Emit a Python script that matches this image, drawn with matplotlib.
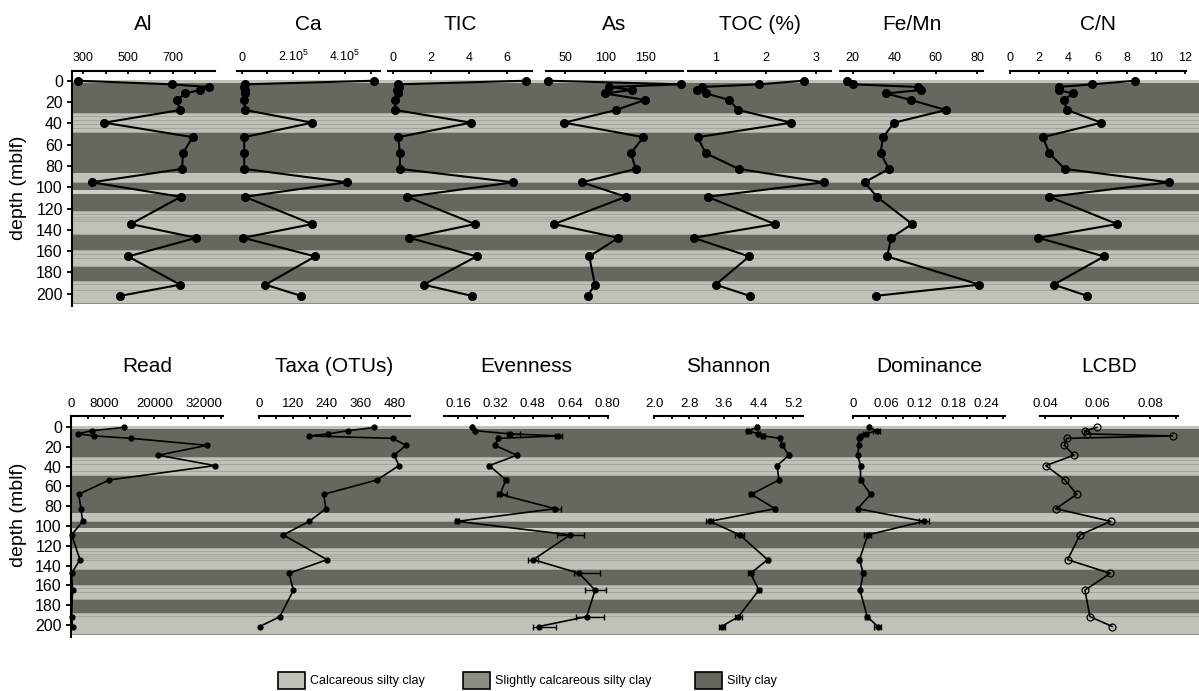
import numpy as np
import matplotlib
matplotlib.use('Agg')
import matplotlib.pyplot as plt
from matplotlib.patches import Rectangle
from matplotlib import font_manager

plt.rcParams['font.family'] = ['Liberation Sans', 'DejaVu Sans']

# ---- lithology (depth in mblf) ----
zone_from = [-1, 2.5, 30.5, 49.5, 87, 95.5, 102.5, 106, 122.5, 144.5, 159.5, 174.5, 188, 209]
zone_to = [2.5, 30.5, 49.5, 87, 95.5, 102.5, 106, 122.5, 144.5, 159.5, 174.5, 188, 209, 210]
zone_kind = ['L', 'D', 'L', 'D', 'L', 'D', 'W', 'D', 'L', 'D', 'L', 'D', 'L', 'M']
stripe_depth = [30.8, 34, 37.5, 41.5, 45, 49, 95.3, 122.8, 126, 128.5, 130.5, 132.5, 134.5,
                144.2, 159.8, 163, 167, 174.2, 188.3, 191, 197]

# ---- top row: geochemistry ----
depth_top = [0, 3.4, 5.9, 8.7, 12, 18, 27.5, 39.4, 53, 68, 82.8, 95.4, 109, 134.6, 147.5, 165, 191.5, 202]
al = [275, 696, 864, 823, 757, 719, 734, 394, 790, 746, 743, 338, 737, 513, 806, 501, 734, 465]
ca = [513000, 12000, 10000, 12000, 12000, 10000, 13000, 273000, 10000, 10000, 10000, 408000,
      12000, 273000, 6000, 285000, 92000, 230000]
tic = [7.0, 0.26, 0.32, 0.2, 0.25, 0.1, 0.1, 4.1, 0.26, 0.35, 0.35, 6.35, 0.74, 4.32, 0.85, 4.4, 1.6, 4.15]
arsenic = [29, 194, 105, 133, 99, 149, 113, 49, 147, 131.5, 137.6, 71, 125.3, 36.5, 116, 80, 87, 78]
toc = [2.76, 1.86, 0.72, 0.62, 0.81, 1.27, 1.45, 2.51, 0.64, 0.80, 1.46, 3.16, 0.84, 2.18, 0.56, 1.67, 1.0, 1.68]
femn = [17.1, 20, 51.6, 53, 36, 47.9, 64.8, 40, 34.6, 33.4, 37.4, 25.7, 31.7, 48.6, 38.5, 36.6, 81, 31]
cn = [8.57, 5.63, 3.33, 3.33, 4.3, 3.7, 3.9, 6.27, 2.25, 2.7, 3.74, 10.9, 2.7, 7.35, 1.95, 6.45, 3.0, 5.3]

# ---- bottom row: biology ----
depth_bot = [0.5, 3.7, 7, 9, 11.5, 18.5, 28.5, 39, 53.5, 68, 82.5, 95.3, 109, 134, 147.8, 164.8, 191.5, 201.5]
reads = [12600, 5030, 1580, 5580, 14510, 32650, 20980, 34490, 9170, 1820, 2400, 2780, 140, 2160, 140, 380, 140, 380]
taxa = [409, 315, 245, 176, 473, 521, 479, 496, 418, 229, 237, 178, 86, 241, 106, 122, 74, 3]
even = [0.218, 0.233, 0.382, 0.589, 0.332, 0.318, 0.411, 0.294, 0.365, 0.339, 0.575, 0.157,
        0.639, 0.482, 0.678, 0.746, 0.710, 0.506]
even_lo = [0, 0, 0.011, 0.014, 0.005, 0.005, 0.005, 0.005, 0.01, 0.014, 0.01, 0.008,
           0.054, 0.021, 0.023, 0.043, 0.047, 0.024]
even_hi = [0, 0, 0.043, 0.014, 0.005, 0.005, 0.005, 0.005, 0.01, 0.031, 0.024, 0.008,
           0.06, 0.021, 0.088, 0.046, 0.074, 0.073]
shannon = [4.37, 4.17, 4.40, 4.51, 4.90, 4.95, 5.10, 4.83, 4.87, 4.24, 4.78, 3.28, 3.97, 4.61, 4.22, 4.41, 3.94, 3.55]
shannon_err = [0.03, 0.06, 0.04, 0.05, 0.03, 0.03, 0.03, 0.03, 0.03, 0.05, 0.03, 0.08, 0.10, 0.04, 0.06, 0.04, 0.08, 0.07]
dominance = [0.030, 0.043, 0.023, 0.014, 0.012, 0.011, 0.009, 0.014, 0.014, 0.032, 0.009, 0.127,
             0.027, 0.012, 0.019, 0.013, 0.026, 0.045]
dominance_err = [0, 0.006, 0.004, 0.002, 0.002, 0.001, 0.001, 0.002, 0.003, 0.002, 0.002, 0.009,
                 0.006, 0.002, 0.003, 0.002, 0.004, 0.006]
lcbd = [0.0597, 0.0552, 0.0561, 0.0886, 0.0483, 0.0474, 0.0510, 0.0403, 0.0476, 0.0521, 0.0441,
        0.0650, 0.0533, 0.0486, 0.0648, 0.0552, 0.0571, 0.0656]

legend_names = ['Calcareous silty clay', 'Slightly calcareous silty clay', 'Silty clay']

colors = {'L': '#c1c1b9', 'M': '#8d8d85', 'D': '#67675f', 'W': '#cfcfc7'}
stripe_color = '#a5a59d'

W, H = 1199, 691
fig = plt.figure(figsize=(W / 100, H / 100), dpi=100)


def px_rect(l, r, t, b):
    return [l / W, 1 - b / H, (r - l) / W, (b - t) / H]


def background(t, b, ylim):
    bg = fig.add_axes(px_rect(72, W, t, b))
    bg.set_ylim(ylim)
    bg.set_xlim(0, 1)
    for z0, z1, k in zip(zone_from, zone_to, zone_kind):
        bg.axhspan(z0, z1, color=colors[k], lw=0)
    for s in stripe_depth:
        bg.axhspan(s - 0.4, s + 0.4, color=stripe_color, lw=0)
    bg.axis('off')


def panel(l, r, t, b, ylim, xlim, ticks, labels, tick_fs, first=False):
    ax = fig.add_axes(px_rect(l, r, t, b))
    ax.patch.set_alpha(0)
    ax.set_ylim(ylim)
    ax.set_xlim(xlim)
    for s in ['right', 'bottom']:
        ax.spines[s].set_visible(False)
    ax.spines['top'].set_linewidth(1.5)
    ax.xaxis.tick_top()
    ax.set_xticks(ticks)
    ax.set_xticklabels(labels)
    ax.tick_params(axis='x', direction='in', length=2.5, width=1.3, labelsize=tick_fs, pad=4.5)
    if first:
        ax.spines['left'].set_linewidth(1.5)
        ax.set_yticks(np.arange(0, 201, 20))
        ax.tick_params(axis='y', direction='out', length=3.6, width=1.3, labelsize=11.5, pad=3)
    else:
        ax.spines['left'].set_visible(False)
        ax.set_yticks([])
    return ax


# ---------------- top row ----------------
top_t, top_b = 70.7, 306.3
ylim_top = (211.8, -9.4)
background(top_t, top_b, ylim_top)

top_panels = [
    ('Al', al, 72, 215, (250, 890), np.arange(300, 801, 100), ['300', '', '500', '', '700', '']),
    ('Ca', ca, 237, 380, (-18000, 536000), np.arange(0, 500001, 100000),
     ['0', '', r'2.10$^\mathregular{5}$', '', r'4.10$^\mathregular{5}$', '']),
    ('TIC', tic, 388, 532, (-0.28, 7.33), [0, 2, 4, 6], ['0', '2', '4', '6']),
    ('As', arsenic, 546, 683, (26.5, 196), [50, 100, 150], ['50', '100', '150']),
    ('TOC (%)', toc, 688, 831, (0.45, 3.3), [1, 2, 3], ['1', '2', '3']),
    ('Fe/Mn', femn, 840, 983, (13.9, 82.7), [20, 40, 60, 80], ['20', '40', '60', '80']),
    ('C/N', cn, 1010, 1186, (0, 12.07), np.arange(0, 13, 2), ['0', '2', '4', '6', '8', '10', '12']),
]
for i, (name, vals, l, r, xl, tk, lb) in enumerate(top_panels):
    ax = panel(l, r, top_t, top_b, ylim_top, xl, tk, lb, 9, first=(i == 0))
    ax.plot(vals, depth_top, '-o', color='black', lw=1.5, ms=5.5, clip_on=False)
    fig.text((l + r) / 2 / W, 1 - 25 / H, name, ha='center', va='center', fontsize=15)
    if i == 0:
        fig.text(19 / W, 1 - 188 / H, 'depth (mblf)', rotation=90, ha='center', va='center', fontsize=14)

# ---------------- bottom row ----------------
bot_t, bot_b = 416, 636.7
ylim_bot = (211.8, -11.1)
background(bot_t, bot_b, ylim_bot)

ax = panel(71, 222.7, bot_t, bot_b, ylim_bot, (0, 36400), np.arange(0, 36001, 4000),
           ['0', '', '8000', '', '', '20000', '', '', '32000', ''], 9.5, first=True)
ax.plot(reads, depth_bot, '-o', color='black', lw=1.2, ms=3.5, clip_on=False)
fig.text(147 / W, 1 - 367 / H, 'Read', ha='center', va='center', fontsize=15)
fig.text(19 / W, 1 - 515 / H, 'depth (mblf)', rotation=90, ha='center', va='center', fontsize=14)

ax = panel(259, 410, bot_t, bot_b, ylim_bot, (0, 535), np.arange(0, 481, 60),
           ['0', '', '120', '', '240', '', '360', '', '480'], 9.5)
ax.plot(taxa, depth_bot, '-o', color='black', lw=1.2, ms=3.5, clip_on=False)
fig.text(334.5 / W, 1 - 367 / H, 'Taxa (OTUs)', ha='center', va='center', fontsize=15)

ax = panel(444, 607.7, bot_t, bot_b, ylim_bot, (0.10, 0.80), np.arange(0.16, 0.81, 0.08),
           ['0.16', '', '0.32', '', '0.48', '', '0.64', '', '0.80'], 9.5)
ax.errorbar(even, depth_bot, xerr=[even_lo, even_hi], fmt='-o', color='black', lw=1.2, ms=3.5,
            elinewidth=1, capsize=2)
fig.text(526 / W, 1 - 367 / H, 'Evenness', ha='center', va='center', fontsize=15)

ax = panel(654.3, 802.7, bot_t, bot_b, ylim_bot, (2.0, 5.42), np.arange(2.0, 5.21, 0.4),
           ['2.0', '', '2.8', '', '3.6', '', '4.4', '', '5.2'], 9.5)
ax.errorbar(shannon, depth_bot, xerr=shannon_err, fmt='-o', color='black', lw=1.2, ms=3.5,
            elinewidth=1, capsize=2)
fig.text(728.5 / W, 1 - 367 / H, 'Shannon', ha='center', va='center', fontsize=15)

ax = panel(852.7, 1005, bot_t, bot_b, ylim_bot, (0, 0.273), np.arange(0, 0.271, 0.03),
           ['0', '', '0.06', '', '0.12', '', '0.18', '', '0.24', ''], 9.5)
ax.errorbar(dominance, depth_bot, xerr=dominance_err, fmt='-o', color='black', lw=1.2, ms=3.5,
            elinewidth=1, capsize=2)
fig.text(929 / W, 1 - 367 / H, 'Dominance', ha='center', va='center', fontsize=15)

ax = panel(1040, 1177.7, bot_t, bot_b, ylim_bot, (0.0381, 0.0905), np.arange(0.04, 0.091, 0.01),
           ['0.04', '', '0.06', '', '0.08', ''], 9.5)
ax.plot(lcbd, depth_bot, '-o', color='black', lw=1.2, ms=5, mfc='none', mec='black', mew=0.9)
fig.text(1109 / W, 1 - 367 / H, 'LCBD', ha='center', va='center', fontsize=15)

# ---------------- legend ----------------
names = {f.name for f in font_manager.fontManager.ttflist}
if 'Liberation Sans Narrow' in names:
    leg_font, leg_fs = 'Liberation Sans Narrow', 11.5
else:
    leg_font, leg_fs = 'Liberation Sans', 9
box_x = [278, 463.3, 695]
for bx, name, k in zip(box_x, legend_names, ['L', 'M', 'D']):
    fig.add_artist(Rectangle((bx / W, 1 - 689.3 / H), 27 / W, 17.6 / H, transform=fig.transFigure,
                             facecolor=colors[k], edgecolor='black', lw=1.2))
    fig.text((bx + 32) / W, 1 - 681 / H, name, ha='left', va='center', fontsize=leg_fs,
             family=leg_font)

fig.savefig('out.png', dpi=100)
